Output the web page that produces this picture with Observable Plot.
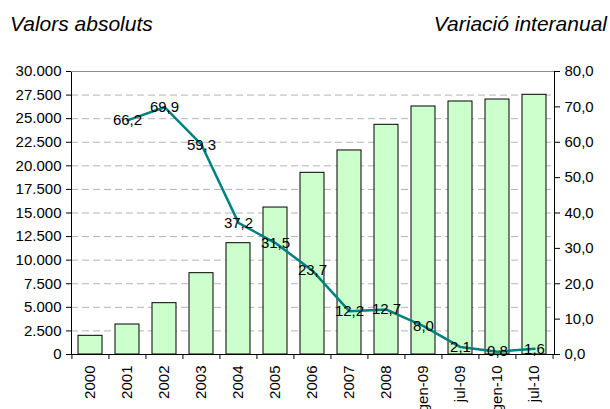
<!DOCTYPE html>
<html>
<head>
<meta charset="utf-8">
<script src="https://cdn.jsdelivr.net/npm/d3@7"></script>
<script src="https://cdn.jsdelivr.net/npm/@observablehq/plot@0.6"></script>
<style>
  html, body { margin: 0; padding: 0; background: #fff; }
  #head { position: relative; height: 50px; font: italic 21px "Liberation Sans", Arial, sans-serif; color: #000; }
  #head span { position: absolute; top: 13px; line-height: 21px; white-space: nowrap; }
  #chart svg { display: block; overflow: visible; }
</style>
</head>
<body>
<div id="head"><span style="left:10px">Valors absoluts</span><span style="right:3px">Variació interanual</span></div>
<div id="chart"></div>
<script>
const categories = ["2000","2001","2002","2003","2004","2005","2006","2007","2008","gen-09","jul-09","gen-10","jul-10"];
const absValues  = [1980, 3180, 5440, 8620, 11800, 15580, 19260, 21630, 24350, 26290, 26820, 27030, 27530];
const varValues  = [null, 66.2, 69.9, 59.3, 37.2, 31.5, 23.7, 12.2, 12.7, 8.0, 2.1, 0.8, 1.6];
const leftTicks  = [0, 2500, 5000, 7500, 10000, 12500, 15000, 17500, 20000, 22500, 25000, 27500, 30000];
const rightTicks = [0, 10, 20, 30, 40, 50, 60, 70, 80];

const W = 610, H = 359, mL = 71, mR = 56, mT = 21, mB = 55;
const ratio = 30000 / 80;
const step = (W - mL - mR) / categories.length;

const loc = d3.formatLocale({decimal: ",", thousands: ".", grouping: [3], currency: ["", "€"]});
const fmtThousands = loc.format(",d");
const fmt1 = d => (Math.round(d * 10) / 10).toFixed(1).replace(".", ",");

const bars = categories.map((c, i) => ({cat: c, v: absValues[i]}));
const lineData = categories.map((c, i) => ({cat: c, v: varValues[i]})).filter(d => d.v != null);

const chart = Plot.plot({
  width: W, height: H,
  marginLeft: mL, marginRight: mR, marginTop: mT, marginBottom: mB,
  style: {fontFamily: "'Liberation Sans', Arial, sans-serif", fontSize: "15px", color: "#000", background: "#fff", overflow: "visible"},
  x: {type: "band", domain: categories, paddingInner: 0.345, paddingOuter: 0.1725, label: null},
  y: {domain: [0, 30000], label: null},
  marks: [
    Plot.ruleY(leftTicks.filter(t => t > 0 && t < 30000), {stroke: "#b4b4b4", strokeDasharray: "7,4"}),
    Plot.barY(bars, {x: "cat", y: "v", fill: "#ccffcc", stroke: "#000", strokeWidth: 1}),
    Plot.frame({stroke: "#000"}),
    Plot.ruleY([30000], {stroke: "#8c8c8c"}),
    Plot.line(lineData, {x: "cat", y: d => d.v * ratio, stroke: "#008080", strokeWidth: 2.5}),
    Plot.text(lineData, {x: "cat", y: d => d.v * ratio, text: d => fmt1(d.v), fill: "#000", fontSize: 15}),
    Plot.axisY({anchor: "left", ticks: leftTicks, tickFormat: fmtThousands, tickSize: 5, tickPadding: 5, label: null}),
    Plot.axisY({anchor: "right", ticks: rightTicks.map(v => v * ratio), tickFormat: d => fmt1(d / ratio), tickSize: 5, tickPadding: 5, label: null}),
    Plot.axisX({anchor: "bottom", tickSize: 0, tickRotate: -90, tickPadding: 11, label: null}),
    Plot.axisX({anchor: "bottom", ticks: categories, tickSize: 5, tickFormat: () => "", dx: -step / 2, label: null}),
    Plot.axisX({anchor: "bottom", ticks: [categories[categories.length - 1]], tickSize: 5, tickFormat: () => "", dx: step / 2, label: null})
  ]
});
document.getElementById("chart").appendChild(chart);
</script>
</body>
</html>
